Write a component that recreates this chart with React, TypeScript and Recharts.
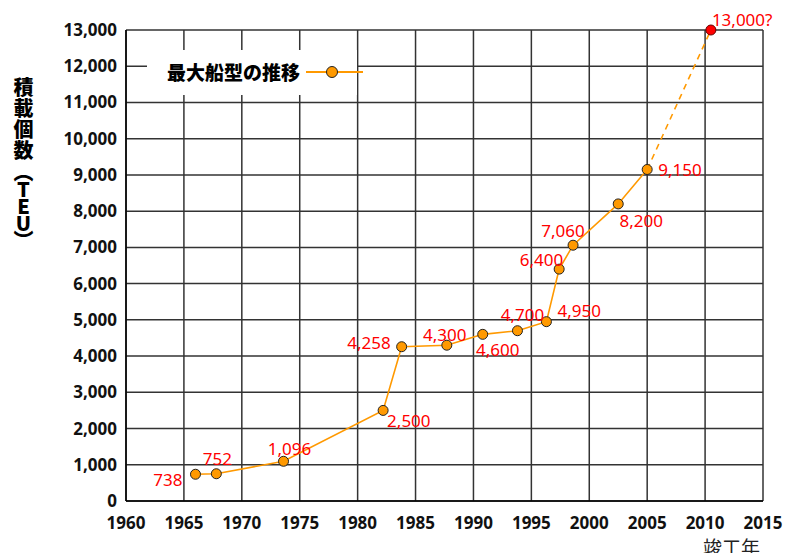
import { CartesianGrid, LabelList, Line, LineChart, XAxis, YAxis } from "recharts";

// 竣工年 (year of completion) and max ship size in TEU
const years = [1966, 1967.8, 1973.6, 1982.2, 1983.8, 1987.7, 1990.8, 1993.8, 1996.3, 1997.4, 1998.6, 2002.5, 2005, 2010.5];
const teu = [738, 752, 1096, 2500, 4258, 4300, 4600, 4700, 4950, 6400, 7060, 8200, 9150, 13000];
const lastConfirmed = 12; // 2005 / 9,150 -> after this the line is dashed
const xTicks = [1960, 1965, 1970, 1975, 1980, 1985, 1990, 1995, 2000, 2005, 2010, 2015];
const yTicks = [0, 1000, 2000, 3000, 4000, 5000, 6000, 7000, 8000, 9000, 10000, 11000, 12000, 13000];

const seriesName = "最大船型の推移";
const yTitleMain = "積載個数";
const yTitleUnit = "（TEU）";
const xTitle = "竣工年";

// where each red value label sits relative to its point
const labelPlace: [number, number, "start" | "middle" | "end"][] = [
    [-13, 5, "end"],
    [1, -15, "middle"],
    [6, -13, "middle"],
    [4, 10, "start"],
    [-11, -4, "end"],
    [-2, -11, "middle"],
    [15, 15, "middle"],
    [5, -16, "middle"],
    [11, -11, "start"],
    [4, -10, "end"],
    [-10, -15, "middle"],
    [23, 17, "middle"],
    [11, 0, "start"],
    [1, -11, "start"],
];

const rows = years.map((year, i) => ({
    year,
    solid: i <= lastConfirmed ? teu[i] : null,
    dashed: i >= lastConfirmed ? teu[i] : null,
}));

const ORANGE = "#FF9900";
const GRID = "#333";
const FONT = "'Noto Sans', 'Noto Sans CJK JP', sans-serif";
const CJK = "'Noto Sans CJK JP', sans-serif";

const fmt = (v: number) => v.toLocaleString("en-US");

function valueLabel(onlyLast: boolean) {
    return (props: any) => {
        const { x, y, value, index } = props;
        if (value == null) return null;
        if (onlyLast && index !== teu.length - 1) return null;
        const [dx, dy, anchor] = labelPlace[index];
        const text = index === teu.length - 1 ? fmt(value) + "?" : fmt(value);
        return (
            <text
                x={x + dx}
                y={y + dy}
                textAnchor={anchor}
                dominantBaseline="central"
                fill="#FF0000"
                fontSize={17}
                fontFamily={FONT}
            >
                {text}
            </text>
        );
    };
}

function OrangeDot(props: any) {
    const { cx, cy, value } = props;
    if (value == null) return <g />;
    return <circle cx={cx} cy={cy} r={5} fill={ORANGE} stroke="#222" strokeWidth={1} />;
}

function RedDot(props: any) {
    const { cx, cy, index } = props;
    if (index !== teu.length - 1) return <g />;
    return <circle cx={cx} cy={cy} r={5} fill="#FF0000" stroke="#660000" strokeWidth={1} />;
}

export default function App() {
    const tickStyle = { fill: "#111", fontSize: 17, fontWeight: 700, fontFamily: FONT };
    return (
        <div style={{ position: "absolute", left: 0, top: 0, width: 785, height: 553, background: "#fff", overflow: "hidden" }}>
            <LineChart width={785} height={553} data={rows} margin={{ top: 30, right: 22, bottom: 0, left: 0 }}>
                <CartesianGrid stroke={GRID} strokeWidth={1.5} />
                <XAxis
                    dataKey="year"
                    type="number"
                    domain={[1960, 2015]}
                    ticks={xTicks}
                    height={52}
                    tickSize={0}
                    tickMargin={16}
                    axisLine={{ stroke: "#000", strokeWidth: 1.5 }}
                    tick={tickStyle}
                    interval={0}
                />
                <YAxis
                    type="number"
                    domain={[0, 13000]}
                    ticks={yTicks}
                    width={126}
                    tickSize={0}
                    tickMargin={9}
                    axisLine={{ stroke: "#000", strokeWidth: 1.5 }}
                    tick={tickStyle}
                    tickFormatter={fmt}
                    interval={0}
                />
                <Line
                    dataKey="solid"
                    name={seriesName}
                    stroke={ORANGE}
                    strokeWidth={1.6}
                    dot={<OrangeDot />}
                    activeDot={false}
                    connectNulls={false}
                    isAnimationActive={false}
                >
                    <LabelList dataKey="solid" content={valueLabel(false)} />
                </Line>
                <Line
                    dataKey="dashed"
                    legendType="none"
                    stroke={ORANGE}
                    strokeWidth={1.6}
                    strokeDasharray="6 5"
                    dot={<RedDot />}
                    activeDot={false}
                    connectNulls={false}
                    isAnimationActive={false}
                >
                    <LabelList dataKey="dashed" content={valueLabel(true)} />
                </Line>
            </LineChart>

            {/* legend: white box over the grid */}
            <div style={{ position: "absolute", left: 147, top: 50, width: 210, height: 45, background: "#fff" }} />
            <div
                style={{
                    position: "absolute",
                    left: 167,
                    top: 59,
                    fontFamily: CJK,
                    fontWeight: 900,
                    fontSize: 19,
                    lineHeight: "26px",
                    color: "#000",
                    whiteSpace: "nowrap",
                }}
            >
                {seriesName}
            </div>
            <svg width={60} height={14} style={{ position: "absolute", left: 305, top: 65 }}>
                <line x1={1} y1={7} x2={58} y2={7} stroke={ORANGE} strokeWidth={2.2} />
                <circle cx={27} cy={7} r={5.5} fill={ORANGE} stroke="#222" strokeWidth={1} />
            </svg>

            {/* y axis title, vertical */}
            <div
                style={{
                    position: "absolute",
                    left: 12,
                    top: 77,
                    writingMode: "vertical-rl",
                    textOrientation: "upright",
                    fontFamily: CJK,
                    fontWeight: 900,
                    fontSize: 20,
                    lineHeight: "22px",
                    letterSpacing: 1,
                    color: "#000",
                }}
            >
                {yTitleMain}
            </div>
            <div
                style={{
                    position: "absolute",
                    left: 12,
                    top: 162,
                    writingMode: "vertical-rl",
                    textOrientation: "upright",
                    fontFamily: CJK,
                    fontWeight: 900,
                    fontSize: 20,
                    lineHeight: "22px",
                    letterSpacing: -3,
                    color: "#000",
                }}
            >
                {yTitleUnit}
            </div>

            <div
                style={{
                    position: "absolute",
                    left: 703,
                    top: 533,
                    fontFamily: CJK,
                    fontSize: 19,
                    color: "#222",
                }}
            >
                {xTitle}
            </div>
        </div>
    );
}
